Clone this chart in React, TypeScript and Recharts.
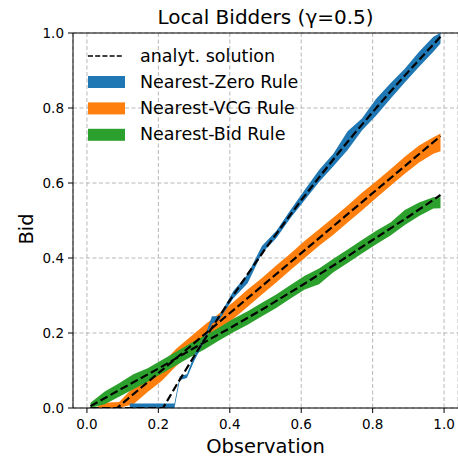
import { Area, CartesianGrid, ComposedChart, Line, ReferenceLine, XAxis, YAxis } from 'recharts'

// observed bid bands (min / max over runs)
const zeroObs = [0.12, 0.13, 0.17, 0.21, 0.245, 0.26, 0.28, 0.3, 0.33, 0.35, 0.37, 0.41, 0.45, 0.49, 0.53, 0.57, 0.61, 0.65, 0.69, 0.73, 0.77, 0.81, 0.85, 0.89, 0.93, 0.97, 0.99]
const zeroLow = [0, 0, 0, 0, 0, 0.075, 0.08, 0.125, 0.18, 0.225, 0.235, 0.293, 0.333, 0.413, 0.453, 0.507, 0.555, 0.603, 0.645, 0.688, 0.74, 0.78, 0.825, 0.868, 0.91, 0.95, 0.972]
const zeroHigh = [0.012, 0.012, 0.012, 0.012, 0.012, 0.085, 0.09, 0.14, 0.19, 0.245, 0.245, 0.312, 0.357, 0.432, 0.472, 0.528, 0.582, 0.635, 0.678, 0.738, 0.772, 0.825, 0.866, 0.905, 0.95, 0.99, 1.0]

const vcgObs = [0.03, 0.05, 0.09, 0.13, 0.17, 0.21, 0.25, 0.29, 0.33, 0.37, 0.41, 0.45, 0.49, 0.53, 0.57, 0.61, 0.65, 0.69, 0.73, 0.77, 0.81, 0.85, 0.89, 0.93, 0.97, 0.99]
const vcgLow = [0, 0, 0, 0.01, 0.043, 0.073, 0.112, 0.145, 0.175, 0.208, 0.238, 0.27, 0.303, 0.335, 0.368, 0.4, 0.433, 0.462, 0.495, 0.527, 0.56, 0.593, 0.625, 0.655, 0.678, 0.685]
const vcgHigh = [0.004, 0.014, 0.016, 0.055, 0.087, 0.118, 0.158, 0.19, 0.222, 0.252, 0.283, 0.316, 0.347, 0.38, 0.412, 0.446, 0.477, 0.508, 0.54, 0.574, 0.605, 0.637, 0.67, 0.7, 0.722, 0.732]

const bidObs = [0.01, 0.05, 0.09, 0.13, 0.17, 0.21, 0.25, 0.29, 0.33, 0.37, 0.41, 0.45, 0.49, 0.53, 0.57, 0.61, 0.65, 0.69, 0.73, 0.77, 0.81, 0.85, 0.89, 0.93, 0.97, 0.99]
const bidLow = [0, 0.01, 0.03, 0.05, 0.07, 0.092, 0.114, 0.136, 0.157, 0.18, 0.202, 0.222, 0.245, 0.267, 0.292, 0.316, 0.33, 0.362, 0.387, 0.412, 0.437, 0.46, 0.488, 0.512, 0.532, 0.533]
const bidHigh = [0.014, 0.044, 0.066, 0.09, 0.106, 0.128, 0.15, 0.173, 0.193, 0.215, 0.238, 0.258, 0.281, 0.303, 0.328, 0.353, 0.372, 0.398, 0.423, 0.448, 0.473, 0.495, 0.528, 0.548, 0.562, 0.562]

// analytical equilibrium
const zeroExactX = [0.01, 0.213, 0.25, 0.3, 0.35, 0.4, 0.45, 0.5, 0.55, 0.6, 0.65, 0.7, 0.75, 0.8, 0.85, 0.9, 0.95, 0.99]
const zeroExactY = [0, 0, 0.06, 0.138, 0.214, 0.287, 0.357, 0.425, 0.49, 0.554, 0.615, 0.675, 0.733, 0.789, 0.844, 0.897, 0.949, 0.99]
const vcgExactX = [0.01, 0.084, 0.5, 0.99]
const vcgExactY = [0, 0, 0.333, 0.725]
const bidExactX = [0.01, 0.1, 0.2, 0.3, 0.4, 0.5, 0.6, 0.7, 0.8, 0.9, 0.99]
const bidExactY = [0.005, 0.053, 0.105, 0.16, 0.213, 0.268, 0.326, 0.386, 0.448, 0.51, 0.568]

const ticks = [0, 0.2, 0.4, 0.6, 0.8, 1.0]

const rules = [
  { name: 'Nearest-Zero Rule', color: '#1f77b4' },
  { name: 'Nearest-VCG Rule', color: '#ff7f0e' },
  { name: 'Nearest-Bid Rule', color: '#2ca02c' },
]

const band = (xs: number[], lo: number[], hi: number[]) => xs.map((x, i) => ({ x, band: [lo[i], hi[i]] }))
const curve = (xs: number[], ys: number[]) => xs.map((x, i) => ({ x, y: ys[i] }))

const FONT = 'DejaVu Sans'
const tickStyle = { fill: '#000', fontSize: 13.5, fontFamily: FONT }

export default function App() {
  return (
    <div style={{ position: 'relative', width: 458, height: 458, background: '#fff' }}>
      <style>{`body{margin:0}`}</style>
      <ComposedChart width={458} height={458} margin={{ top: 33, right: 0, bottom: 0, left: 0 }}>
        <CartesianGrid stroke="#b0b0b0" strokeDasharray="4 2.5" strokeWidth={0.9} />
        <XAxis
          type="number"
          dataKey="x"
          domain={[-0.039, 1.039]}
          ticks={ticks}
          tickFormatter={(v: number) => v.toFixed(1)}
          allowDataOverflow
          height={50}
          tick={tickStyle}
          tickSize={5}
          tickMargin={6}
          axisLine={{ stroke: '#000' }}
          tickLine={{ stroke: '#000' }}
        />
        <YAxis
          type="number"
          domain={[0, 1]}
          ticks={ticks}
          tickFormatter={(v: number) => v.toFixed(1)}
          allowDataOverflow
          width={73}
          tick={tickStyle}
          tickSize={5}
          tickMargin={4}
          axisLine={{ stroke: '#000' }}
          tickLine={{ stroke: '#000' }}
        />
        <ReferenceLine y={1} stroke="#000" strokeWidth={1} />
        <Area data={band(vcgObs, vcgLow, vcgHigh)} dataKey="band" type="linear" stroke="none" fill={rules[1].color} fillOpacity={1} isAnimationActive={false} />
        <Area data={band(bidObs, bidLow, bidHigh)} dataKey="band" type="linear" stroke="none" fill={rules[2].color} fillOpacity={1} isAnimationActive={false} />
        <Area data={band(zeroObs, zeroLow, zeroHigh)} dataKey="band" type="linear" stroke="none" fill={rules[0].color} fillOpacity={1} isAnimationActive={false} />
        <Line data={curve(zeroExactX, zeroExactY)} dataKey="y" type="linear" stroke="#000" strokeWidth={2.2} strokeDasharray="8 3.5" dot={false} isAnimationActive={false} />
        <Line data={curve(vcgExactX, vcgExactY)} dataKey="y" type="linear" stroke="#000" strokeWidth={2.2} strokeDasharray="8 3.5" dot={false} isAnimationActive={false} />
        <Line data={curve(bidExactX, bidExactY)} dataKey="y" type="linear" stroke="#000" strokeWidth={2.2} strokeDasharray="8 3.5" dot={false} isAnimationActive={false} />
      </ComposedChart>
      <svg width={458} height={458} style={{ position: 'absolute', left: 0, top: 0, pointerEvents: 'none' }} fontFamily={FONT}>
        <text x={265.5} y={24} textAnchor="middle" fontSize={20}>Local Bidders (γ=0.5)</text>
        <text x={265.5} y={453} textAnchor="middle" fontSize={19.5}>Observation</text>
        <text x={33} y={229} textAnchor="middle" fontSize={19.5} transform="rotate(-90 33 229)">Bid</text>
        <line x1={88} x2={123} y1={56} y2={56} stroke="#000" strokeWidth={1.5} strokeDasharray="5 2.2" />
        <text x={140} y={62.4} fontSize={17.5}>analyt. solution</text>
        {rules.map((r, i) => (
          <g key={r.name}>
            <rect x={88} y={76 + i * 26.4} width={37} height={12} fill={r.color} />
            <text x={140} y={88 + i * 26.2} fontSize={17.5}>{r.name}</text>
          </g>
        ))}
      </svg>
    </div>
  )
}
